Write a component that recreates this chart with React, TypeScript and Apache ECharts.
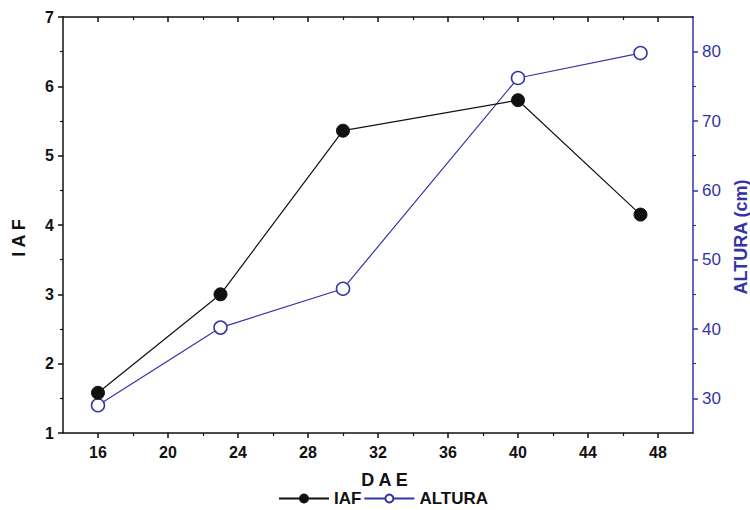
import React, { useEffect, useRef } from "react";
import * as echarts from "echarts";

const dae = [16, 23, 30, 40, 47];
const iaf = [1.58, 3.0, 5.36, 5.8, 4.15];
const altura = [29.0, 40.2, 45.8, 76.2, 79.8];

const xMajor = [16, 20, 24, 28, 32, 36, 40, 44, 48];
const xMinor = [18, 22, 26, 30, 34, 38, 42, 46];
const rightMajor = [30, 40, 50, 60, 70, 80];
const rightMinor = [35, 45, 55, 65, 75];

const BLACK = "#111";
const BLUE = "#3434a8";
const FONT = "'Liberation Sans', Arial, sans-serif";

export default function App() {
  const ref = useRef<HTMLDivElement>(null);
  useEffect(() => {
    if (!ref.current) return;
    const chart = echarts.init(ref.current, undefined, { renderer: "svg" });
    const hiddenLabel = { show: false };
    const baseX = {
      type: "value",
      min: 14,
      max: 50,
      splitLine: { show: false },
      axisLine: { onZero: false },
    };
    chart.setOption({
      animation: false,
      backgroundColor: "#fff",
      textStyle: { fontFamily: FONT },
      grid: { left: 63, right: 57, top: 17, bottom: 77, containLabel: false, outerBoundsMode: "none" },
      legend: {
        left: 273,
        top: 485,
        itemWidth: 50,
        itemHeight: 10,
        itemGap: 2,
        textStyle: { fontFamily: FONT, fontSize: 17, fontWeight: "bold", color: "#111" },
        data: ["IAF", "ALTURA"],
      },
      xAxis: [
        {
          ...baseX,
          position: "bottom",
          axisLine: { onZero: false, lineStyle: { color: BLACK, width: 1.5 } },
          axisTick: { customValues: xMajor, length: 5, lineStyle: { color: BLACK, width: 1.5 } },
          axisLabel: {
            customValues: xMajor,
            margin: 11,
            fontSize: 16,
            fontWeight: "bold",
            color: BLACK,
            fontFamily: FONT,
          },
          name: "D A E",
          nameLocation: "middle",
          nameGap: 38,
          nameTextStyle: { fontSize: 18, fontWeight: "bold", color: BLACK, fontFamily: FONT, padding: [0, 0, 0, 13] },
        },
        {
          ...baseX,
          position: "bottom",
          axisLine: { show: false, onZero: false },
          axisTick: { customValues: xMinor, length: 3, lineStyle: { color: BLACK, width: 1.2 } },
          axisLabel: hiddenLabel,
        },
        {
          ...baseX,
          position: "top",
          axisLine: { onZero: false, lineStyle: { color: BLACK, width: 1.5 } },
          axisTick: { customValues: xMajor, inside: true, length: 5, lineStyle: { color: BLACK, width: 1.5 } },
          axisLabel: hiddenLabel,
        },
        {
          ...baseX,
          position: "top",
          axisLine: { show: false, onZero: false },
          axisTick: { customValues: xMinor, inside: true, length: 3, lineStyle: { color: BLACK, width: 1.2 } },
          axisLabel: hiddenLabel,
        },
      ],
      yAxis: [
        {
          type: "value",
          position: "left",
          min: 1,
          max: 7,
          interval: 1,
          splitLine: { show: false },
          axisLine: { show: true, onZero: false, lineStyle: { color: BLACK, width: 1.5 } },
          axisTick: { show: true, length: 5, lineStyle: { color: BLACK, width: 1.5 } },
          minorTick: { show: true, splitNumber: 2, length: 3, lineStyle: { color: BLACK, width: 1.2 } },
          minorSplitLine: { show: false },
          axisLabel: { margin: 9, fontSize: 16, fontWeight: "bold", color: BLACK, fontFamily: FONT },
          name: "I A F",
          nameLocation: "middle",
          nameGap: 35,
          nameTextStyle: { fontSize: 18, fontWeight: "bold", color: BLACK, fontFamily: FONT, padding: [0, 26, 0, 0] },
        },
        {
          type: "value",
          position: "right",
          min: 25,
          max: 85,
          splitLine: { show: false },
          axisLine: { show: true, onZero: false, lineStyle: { color: BLUE, width: 1.5 } },
          axisTick: { show: true, customValues: rightMajor, length: 5, lineStyle: { color: BLUE, width: 1.5 } },
          axisLabel: { customValues: rightMajor, margin: 9, fontSize: 17, color: BLUE, fontFamily: FONT },
          name: "ALTURA (cm)",
          nameLocation: "middle",
          nameGap: 38,
          nameTextStyle: { fontSize: 18, fontWeight: "bold", color: BLUE, fontFamily: FONT, padding: [0, 24, 0, 0] },
        },
        {
          type: "value",
          position: "right",
          min: 25,
          max: 85,
          splitLine: { show: false },
          axisLine: { show: false, onZero: false },
          axisTick: { show: true, customValues: rightMinor, length: 3, lineStyle: { color: BLUE, width: 1.2 } },
          axisLabel: hiddenLabel,
        },
      ],
      series: [
        {
          name: "ALTURA",
          type: "line",
          xAxisIndex: 0,
          yAxisIndex: 1,
          data: dae.map((d, i) => [d, altura[i]]),
          symbol: "circle",
          symbolSize: 13,
          lineStyle: { color: BLUE, width: 1.2 },
          itemStyle: { color: "#fff", borderColor: BLUE, borderWidth: 1.5 },
          z: 2,
        },
        {
          name: "IAF",
          type: "line",
          xAxisIndex: 0,
          yAxisIndex: 0,
          data: dae.map((d, i) => [d, iaf[i]]),
          symbol: "circle",
          symbolSize: 13,
          lineStyle: { color: BLACK, width: 1.2 },
          itemStyle: { color: BLACK, borderColor: BLACK, borderWidth: 1 },
          z: 3,
        },
      ],
    });
    return () => chart.dispose();
  }, []);
  return (
    <div
      ref={ref}
      style={{ position: "fixed", left: 0, top: 0, width: 750, height: 510, background: "#fff" }}
    />
  );
}
